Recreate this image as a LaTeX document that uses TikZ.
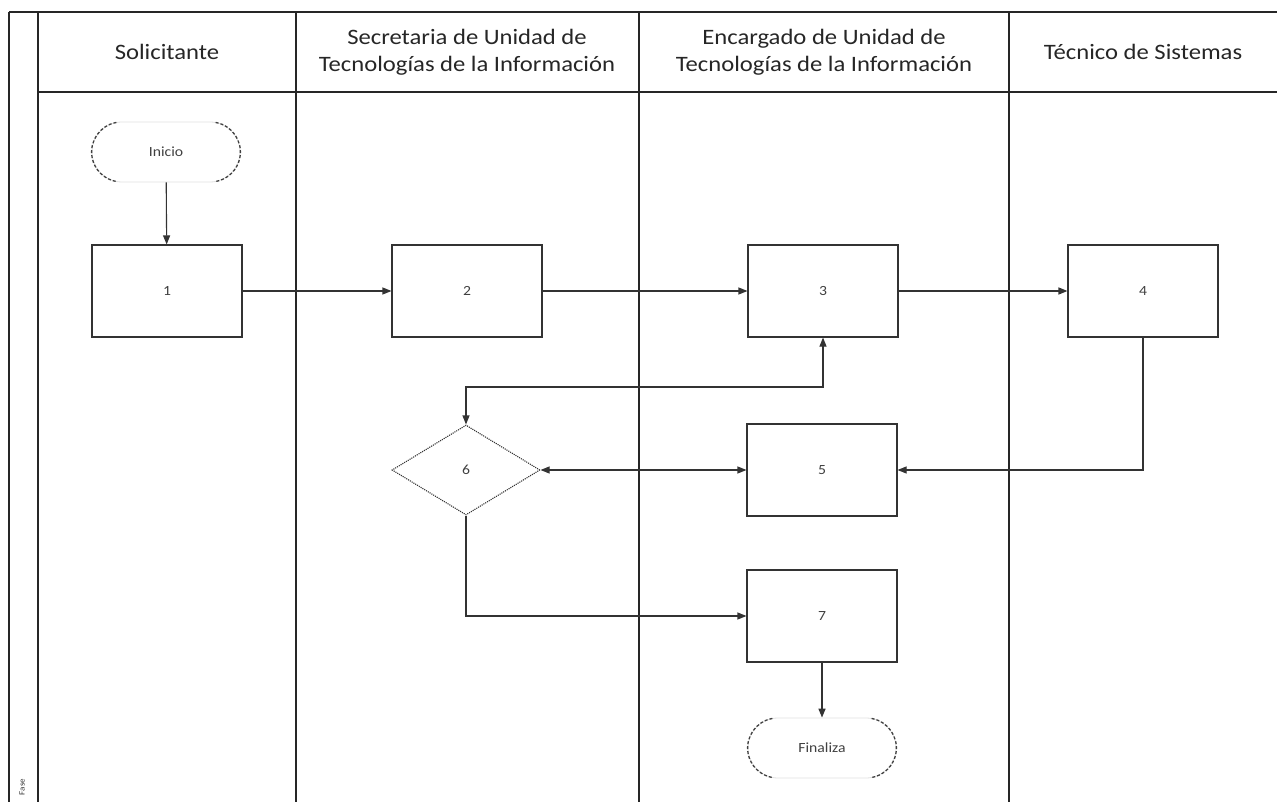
\documentclass[tikz,border=0pt]{standalone}
\usepackage{fontspec}
\setmainfont{Carlito}[FakeStretch=1.12]
\usetikzlibrary{arrows.meta,shapes.geometric}
\begin{document}
\begin{tikzpicture}[x=1pt,y=-1pt,
  lane/.style={line width=1.4pt,draw=black!85},
  hdr/.style={font=\fontsize{22}{27}\selectfont,align=center,text=black!85},
  proc/.style={draw=black!80,line width=1.1pt,minimum width=150pt,minimum height=92pt,inner sep=0pt,font=\fontsize{14}{16}\selectfont,text=black!75},
  term/.style={draw=black!12,line width=0.8pt,rounded corners=30pt,minimum width=148pt,minimum height=60pt,inner sep=0pt,font=\fontsize{14}{16}\selectfont,text=black!75},
  termarc/.style={draw=black!75,line width=1.3pt,densely dashed},
  dec/.style={diamond,draw=black!80,densely dotted,line width=1.1pt,minimum width=148pt,minimum height=90pt,inner sep=0pt,font=\fontsize{14}{16}\selectfont,text=black!75},
  arr/.style={draw=black!80,line width=1.1pt,-{Triangle[length=9pt,width=7pt]}},
  darr/.style={draw=black!80,line width=1.1pt,{Triangle[length=9pt,width=7pt]}-{Triangle[length=9pt,width=7pt]}}
]
\useasboundingbox (0,0) rectangle (1277,802);

% frame and lanes
\draw[lane] (9,12) -- (9,802);
\draw[lane] (38,12) -- (38,802);
\draw[lane] (9,12) -- (1277,12);
\draw[lane] (38,92) -- (1277,92);
\draw[lane] (296,12) -- (296,802);
\draw[lane] (639,12) -- (639,802);
\draw[lane] (1009,12) -- (1009,802);

% headers
\node[hdr] (h1) at (167,52) {Solicitante};
\node[hdr] (h2) at (467,52) {Secretaria de Unidad de\\Tecnologías de la Información};
\node[hdr] (h3) at (824,52) {Encargado de Unidad de\\Tecnologías de la Información};
\node[hdr] (h4) at (1143,52) {Técnico de Sistemas};
\node[rotate=90,font=\fontsize{8}{9}\selectfont,text=black!80] (fase) at (22,787) {Fase};

% nodes
\node[term] (ini) at (166,152) {Inicio};
\draw[termarc] ([xshift=30pt]ini.west) ++(100:30pt) arc[start angle=100,end angle=260,radius=30pt];
\draw[termarc] ([xshift=-30pt]ini.east) ++(80:30pt) arc[start angle=80,end angle=-80,radius=30pt];

\node[proc] (b1) at (167,291) {1};
\node[proc] (b2) at (467,291) {2};
\node[proc] (b3) at (823,291) {3};
\node[proc] (b4) at (1143,291) {4};
\node[dec]  (d6) at (466,470) {6};
\node[proc] (b5) at (822,470) {5};
\node[proc] (b7) at (822,616) {7};

\node[term] (fin) at (822,748) {Finaliza};
\draw[termarc] ([xshift=30pt]fin.west) ++(100:30pt) arc[start angle=100,end angle=260,radius=30pt];
\draw[termarc] ([xshift=-30pt]fin.east) ++(80:30pt) arc[start angle=80,end angle=-80,radius=30pt];

% connectors
\draw[arr] (ini) -- (b1);
\draw[arr] (b1) -- (b2);
\draw[arr] (b2) -- (b3);
\draw[arr,line width=1.5pt] (b3) -- (b4);
\draw[arr] (b4.south) |- (b5.east);
\coordinate (m3) at (823,387);
\draw[darr] (b3.south) -- (m3) -| (d6.north);
\draw[darr] (d6.east) -- (b5.west);
\draw[arr] (d6.south) |- (b7.west);
\draw[arr,line width=1.5pt] (b7) -- (fin);
\end{tikzpicture}
\end{document}
